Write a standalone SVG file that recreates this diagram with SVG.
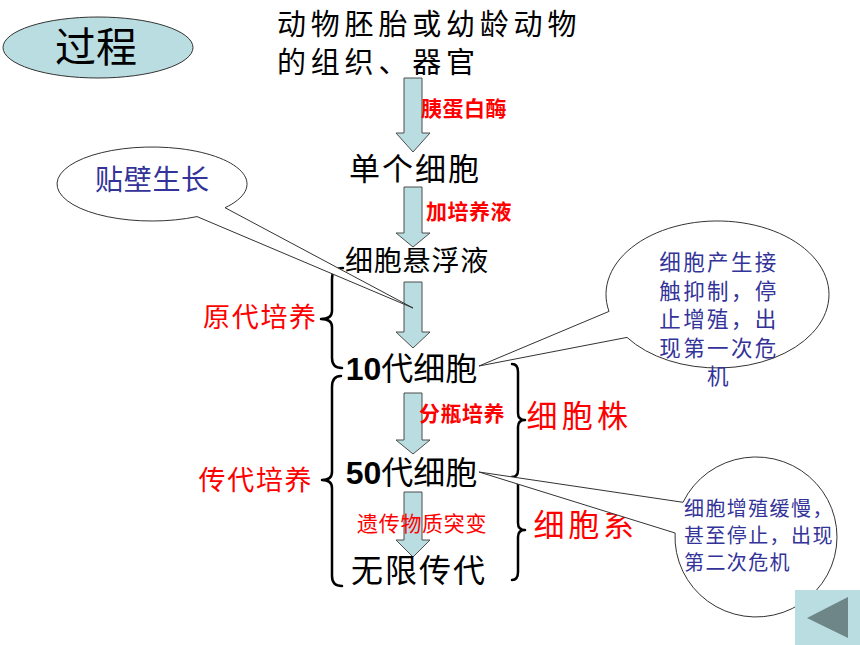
<svg xmlns="http://www.w3.org/2000/svg" width="860" height="645" viewBox="0 0 860 645">
<style>
  text { font-family: "Noto Sans CJK SC", "Noto Sans CJK TC", sans-serif; }
  .blk { fill: #000; }
  .red { fill: #ff0000; }
  .blue { fill: #333399; }
  .arrow { fill: #b9dde0; stroke: #4d4d4d; stroke-width: 1; }
  .brace { fill: none; stroke: #000; stroke-width: 2.5; stroke-linecap: round; stroke-linejoin: round; }
  .bubble { fill: #fff; stroke: #333; stroke-width: 1; }
  .lbl { font-size: 21px; font-weight: bold; letter-spacing: 0.5px; }
  .num { font-family: "Liberation Sans", "Noto Sans CJK SC", sans-serif; font-size: 32px; }
</style>
<rect x="0" y="0" width="860" height="645" fill="#fff"/>

<g id="title-process">
  <ellipse cx="98" cy="47.5" rx="95" ry="30.5" fill="#b9dde0" stroke="#333" stroke-width="1"/>
  <text x="55" y="62" class="blk" font-size="41">过程</text>
</g>

<g id="node-source">
  <text x="277" y="35" class="blk" font-size="29" letter-spacing="4.8">动物胚胎或幼龄动物</text>
  <text x="277" y="73" class="blk" font-size="29" letter-spacing="4.8">的组织、器官</text>
</g>

<g id="connectors">
  <polygon class="arrow" points="404,78 422,78 422,133 430,133 413,152 396,133 404,133"/>
  <polygon class="arrow" points="404,187 422,187 422,233 430,233 413,247 396,233 404,233"/>
  <polygon class="arrow" points="404,282 422,282 422,332 430,332 413,348 396,332 404,332"/>
  <polygon class="arrow" points="404,393 422,393 422,440 430,440 413,454 396,440 404,440"/>
  <polygon class="arrow" points="404,492 422,492 422,540 430,540 413,557 396,540 404,540"/>
  <path class="brace" d="M343,268 Q332,268 332,279 L332,311 Q332,319 321,319 Q332,319 332,327 L332,358 Q332,368 342,368"/>
  <path class="brace" d="M341,376 Q332,376 332,387 L332,472 Q332,480 322,480 Q332,480 332,488 L332,576 Q332,586 342,586"/>
  <path class="brace" d="M512,364 Q518,364 518,372 L518,413 Q518,420 525,420 Q518,420 518,427 L518,470 Q518,477 512,477"/>
  <path class="brace" d="M512,477 Q518,477 518,485 L518,523 Q518,530 525,530 Q518,530 518,537 L518,572 Q518,580 512,580"/>
</g>

<g id="label-trypsin"><text x="421" y="115.5" class="red lbl">胰蛋白酶</text></g>
<g id="label-medium"><text x="426" y="218.5" class="red lbl">加培养液</text></g>
<g id="label-split"><text x="419" y="420.5" class="red lbl">分瓶培养</text></g>

<g id="node-single-cell"><text x="349" y="180" class="blk" font-size="31" letter-spacing="2">单个细胞</text></g>
<g id="node-suspension"><text x="345" y="271" class="blk" font-size="28" letter-spacing="0.8">细胞悬浮液</text></g>
<g id="node-10"><text x="345.7" y="380" class="blk num"><tspan font-weight="bold">10</tspan>代细胞</text></g>
<g id="node-50"><text x="345.7" y="484" class="blk num"><tspan font-weight="bold">50</tspan>代细胞</text></g>
<g id="label-mutation"><text x="357" y="530.5" class="red" font-size="21" letter-spacing="0.7">遗传物质突变</text></g>
<g id="node-infinite"><text x="351" y="582" class="blk" font-size="32" letter-spacing="2">无限传代</text></g>

<g id="label-primary"><text x="203" y="327" class="red" font-size="27" letter-spacing="1.7">原代培养</text></g>
<g id="label-passage"><text x="198.5" y="490" class="red" font-size="27" letter-spacing="1.7">传代培养</text></g>
<g id="label-cell-strain"><text x="526.5" y="427" class="red" font-size="31" letter-spacing="4.3">细胞株</text></g>
<g id="label-cell-line"><text x="533.5" y="536" class="red" font-size="31" letter-spacing="3.8">细胞系</text></g>

<g id="callout-adherent">
  <path class="bubble" d="M225,207.7 A95,37 0 1 0 197,216.6 L413,308 Z"/>
  <text x="95" y="190" class="blue" font-size="28" letter-spacing="0.7">贴壁生长</text>
</g>

<g id="callout-first-crisis">
  <path class="bubble" d="M609,311.4 A111.5,73.5 0 1 1 627,337.4 L479,366 Z"/>
  <g class="blue" font-size="21.5" letter-spacing="2.4" text-anchor="middle">
    <text x="719" y="270">细胞产生接</text>
    <text x="719" y="298.5">触抑制，停</text>
    <text x="719" y="327">止增殖，出</text>
    <text x="719" y="355.5">现第一次危</text>
    <text x="719" y="384">机</text>
  </g>
</g>

<g id="callout-second-crisis">
  <path class="bubble" d="M683,502.3 A81,80 0 1 1 675.1,533 L479,472 Z"/>
  <g class="blue" font-size="20" letter-spacing="1.4">
    <text x="684" y="516">细胞增殖缓慢，</text>
    <text x="684" y="543">甚至停止，出现</text>
    <text x="684" y="570">第二次危机</text>
  </g>
</g>

<g id="back-button">
  <rect x="795" y="590" width="65" height="55" fill="#b9dde0"/>
  <polygon points="807,618 848,597 848,638" fill="#6e8687"/>
</g>
</svg>
